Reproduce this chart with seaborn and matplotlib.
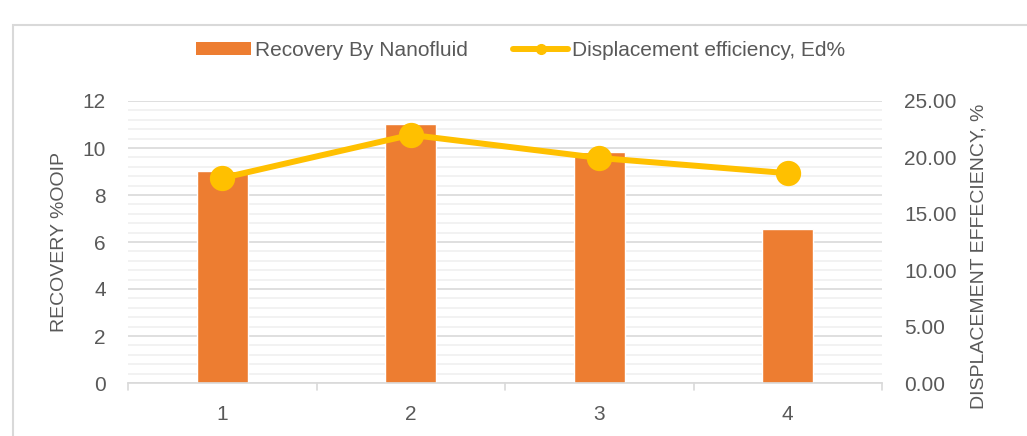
import matplotlib
matplotlib.use("Agg")
import matplotlib.pyplot as plt
from matplotlib.ticker import MultipleLocator, FormatStrFormatter
from matplotlib.patches import Rectangle
from matplotlib.lines import Line2D
from matplotlib.patches import Patch
import seaborn as sns

# data
trials = ["1", "2", "3", "4"]
recovery = [9.0, 11.0, 9.83, 6.55]          # % OOIP, left axis
disp_eff = [18.17, 22.0, 19.95, 18.6]       # Ed %, right axis

bar_col = "#ED7D31"
line_col = "#FFC000"
txt_col = "#595959"
fs = 15

sns.set_style("white")
plt.rcParams["font.family"] = ["Liberation Sans", "DejaVu Sans"]

fig = plt.figure(figsize=(10.27, 4.36), dpi=100)
ax = fig.add_axes([128 / 1027, 53 / 436, 754 / 1027, 282 / 436])

sns.barplot(x=trials, y=recovery, ax=ax, color=bar_col, width=0.27, saturation=1)
ax.set_ylim(0, 12)
ax.set_xlim(-0.5, 3.5)
ax.yaxis.set_major_locator(MultipleLocator(2))
ax.yaxis.set_minor_locator(MultipleLocator(0.4))
ax.grid(True, which="major", axis="y", color="#D9D9D9", lw=1.2)
ax.grid(True, which="minor", axis="y", color="#F0F0F0", lw=1.2)
ax.set_axisbelow(True)
for s in ["left", "right", "top"]:
    ax.spines[s].set_visible(False)
ax.spines["bottom"].set_color("#D9D9D9")
ax.spines["bottom"].set_linewidth(1.2)
ax.tick_params(axis="y", which="both", length=0, colors=txt_col, labelsize=fs, pad=16)
ax.tick_params(axis="x", length=0, colors=txt_col, labelsize=fs, pad=16)
# category boundary ticks
for b in [-0.5, 0.5, 1.5, 2.5, 3.5]:
    ax.plot([b, b], [0, -0.3], color="#D9D9D9", lw=1.2, clip_on=False)
ax.set_xlabel("")
ax.set_ylabel("RECOVERY %OOIP", color=txt_col, fontsize=14)
ax.yaxis.set_label_coords(-60 / 754, 0.5)

ax2 = ax.twinx()
sns.pointplot(x=trials, y=disp_eff, ax=ax2, color=line_col, markers="o",
              markersize=15, linewidth=4.3)
ax2.set_ylim(0, 25)
ax2.set_xlim(-0.5, 3.5)
ax2.yaxis.set_major_locator(MultipleLocator(5))
ax2.yaxis.set_major_formatter(FormatStrFormatter("%.2f"))
for s in ["left", "right", "top", "bottom"]:
    ax2.spines[s].set_visible(False)
ax2.tick_params(axis="y", length=0, colors=txt_col, labelsize=fs, pad=16)
ax2.set_ylabel("DISPLACEMENT EFFECIENCY, %", color=txt_col, fontsize=14)
ax2.yaxis.set_label_coords(1 + 88 / 754, 0.45)
ax2.grid(False)

handles = [Patch(facecolor=bar_col, edgecolor="none"),
           Line2D([], [], color=line_col, lw=4.3, marker="o", markersize=7)]
fig.legend(handles, ["Recovery By Nanofluid", "Displacement efficiency, Ed%"],
           loc="center", bbox_to_anchor=(0.507, 0.885), ncol=2, frameon=False,
           fontsize=fs, labelcolor=txt_col, handlelength=2.6, handleheight=0.55,
           columnspacing=2.2, handletextpad=0.2)

# chart area border
fig.patches.append(Rectangle((13 / 1027, -0.01), 1.0, (436 - 25) / 436 + 0.01,
                             transform=fig.transFigure, fill=False,
                             edgecolor="#D9D9D9", lw=1.5))

fig.savefig("out.png", dpi=100)
